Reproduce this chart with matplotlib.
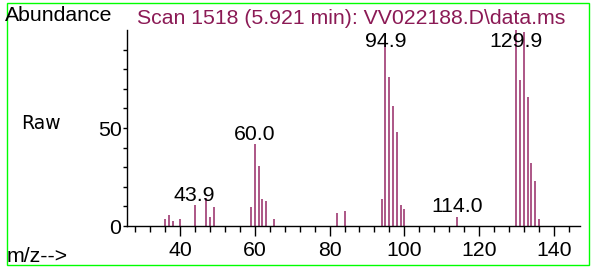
import numpy as np
import matplotlib
matplotlib.use('Agg')
import matplotlib.pyplot as plt
from matplotlib.patches import Rectangle
from matplotlib.ticker import MultipleLocator, FixedLocator

# spectrum (m/z, relative abundance %)
mz = [36, 37, 38, 40, 43.9, 47, 48, 49, 59, 60.0, 61, 62, 63, 65,
      82, 84, 94, 94.9, 96, 97, 98, 99, 100, 114.0,
      129.9, 131, 132, 133, 134, 135, 136]
abundance = [3.6, 5.6, 2.6, 3.6, 10.7, 14.3, 4.6, 9.7, 9.7, 41.8, 30.8, 13.8, 12.8, 3.6,
             6.6, 7.7, 13.8, 95.0, 76.0, 61.0, 48.0, 10.7, 8.7, 4.6,
             100.0, 74.5, 99.0, 66.0, 32.0, 23.0, 3.6]
labelled_peaks = [43.9, 60.0, 94.9, 114.0, 129.9]
x_ticks = [40, 60, 80, 100, 120, 140]
y_ticks = [0, 50]

title = 'Scan 1518 (5.921 min): VV022188.D\\data.ms'
bar_color = '#9E3A72'
title_color = '#8B1A55'
fs = 15.3

plt.rcParams['font.family'] = ['Liberation Sans', 'DejaVu Sans']

fig = plt.figure(figsize=(5.91, 2.68), dpi=100)
ax = fig.add_axes([127 / 591, 42 / 268, 453 / 591, 196 / 268])

ax.vlines(mz, 0, abundance, color=bar_color, lw=1.2)

ax.set_xlim(25.8, 147)
ax.set_ylim(0, 100)
for s in ['top', 'right']:
    ax.spines[s].set_visible(False)
ax.spines['left'].set_linewidth(1.0)
ax.spines['bottom'].set_linewidth(1.0)

ax.xaxis.set_major_locator(FixedLocator(x_ticks))
ax.xaxis.set_minor_locator(MultipleLocator(4))
ax.yaxis.set_major_locator(FixedLocator(y_ticks))
ax.yaxis.set_minor_locator(FixedLocator(np.arange(10, 100, 10)))
ax.tick_params(axis='x', which='major', length=7, width=1, labelsize=fs, pad=4)
ax.tick_params(axis='x', which='minor', length=4, width=1)
ax.tick_params(axis='y', which='both', length=3, width=1, labelsize=fs, pad=1)

# peak labels, kept below the top of the plot
for m in labelled_peaks:
    h = abundance[mz.index(m)]
    ax.text(m, min(h + 2.3, 91.5), f'{m:.1f}', ha='center', va='baseline',
            fontsize=fs, color='black')

fig.text(5 / 591, 1 - 21 / 268, 'Abundance', fontsize=fs, va='baseline', ha='left')
fig.text(137 / 591, 1 - 24 / 268, title, fontsize=fs, va='baseline', ha='left',
         color=title_color)
fig.text(21 / 591, 1 - 129 / 268, 'Raw', fontsize=13.5, va='baseline', ha='left',
         family='DejaVu Sans')
fig.text(7 / 591, 1 - 262 / 268, 'm/z-->', fontsize=fs, va='baseline', ha='left')

fig.patches.append(Rectangle((6.5 / 591, 3 / 268), 582.5 / 591, 262.5 / 268,
                             transform=fig.transFigure, fill=False,
                             edgecolor='#00FF00', lw=1.0))

fig.savefig('out.png', dpi=100)
